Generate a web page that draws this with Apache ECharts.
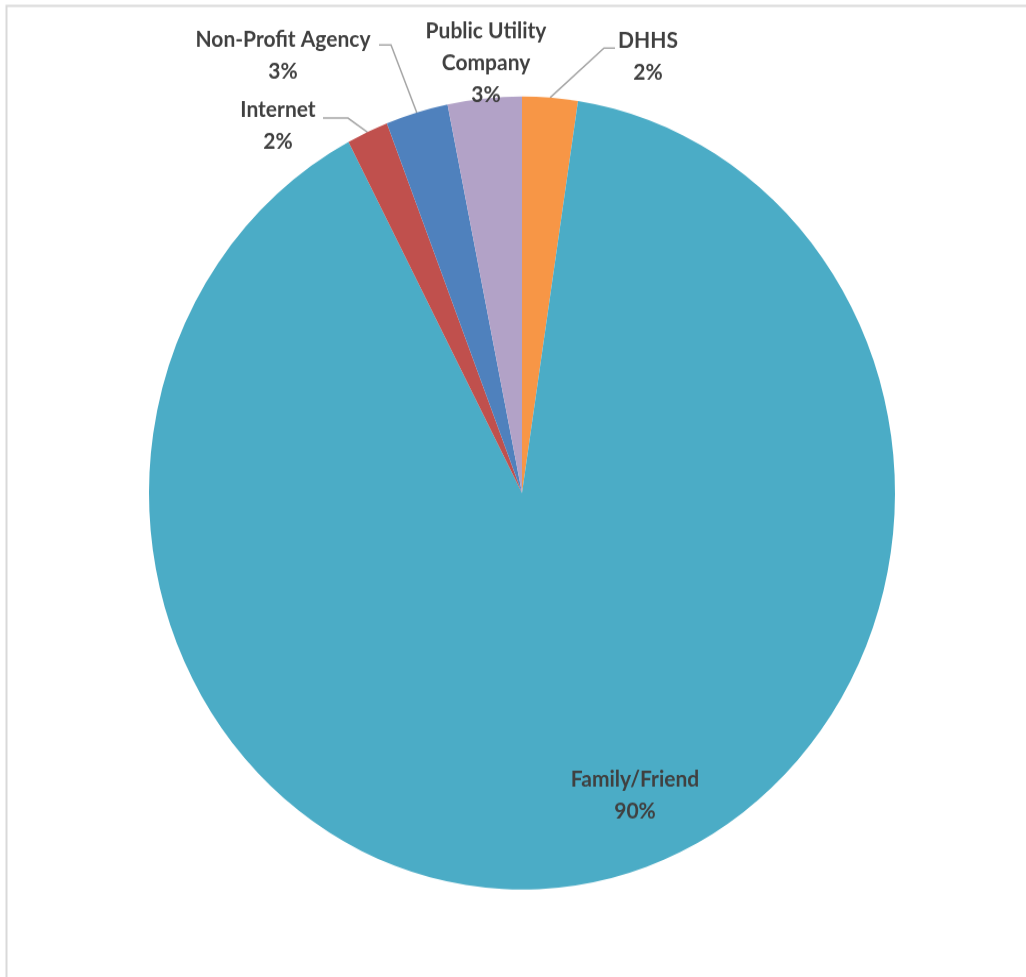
<!DOCTYPE html>
<html>
<head>
<meta charset="utf-8">
<script src="https://cdn.jsdelivr.net/npm/echarts@6/dist/echarts.min.js"></script>
<style>
  html, body { margin: 0; padding: 0; background: #fff; overflow: hidden; }
  #wrap { width: 1026px; height: 977px; overflow: hidden; position: relative; }
  /* the pie is drawn slightly taller than wide, so the chart box is stretched vertically */
  #chart { width: 1026px; height: 919px; transform: scaleY(1.063); transform-origin: 0 0; }
</style>
</head>
<body>
<div id="wrap"><div id="chart"></div></div>
<script>
// Where respondents heard about the program (share of responses, %)
const categories = ['DHHS', 'Family/Friend', 'Internet', 'Non-Profit Agency', 'Public Utility Company'];
const shares = [2.4, 89.9, 1.8, 2.7, 3.2];
const colors = ['#f79646', '#4bacc6', '#c0504d', '#4f81bd', '#b2a2c7'];

const STRETCH = 1.063;

// label block centres and leader-line elbows, in page pixels
const labelPlaces = [
  { x: 648, y: 57, line: [[604, 48], [615, 48]] },
  { x: 635, y: 795 },
  { x: 278, y: 126, line: [[348, 118], [323, 118]] },
  { x: 283, y: 55, line: [[391, 45], [379, 45]] },
  { x: 486, y: 63 }
];

const chart = echarts.init(document.getElementById('chart'), null, { renderer: 'canvas' });

chart.setOption({
  backgroundColor: '#ffffff',
  animation: false,
  graphic: [{
    type: 'rect',
    shape: { x: 6.5, y: 5.8 / STRETCH, width: 1200, height: 1200 },
    style: { fill: 'none', stroke: '#d9d9d9', lineWidth: 2 },
    silent: true
  }],
  series: [{
    type: 'pie',
    center: [522, 493 / STRETCH],
    radius: 373,
    startAngle: 90,
    clockwise: true,
    avoidLabelOverlap: false,
    itemStyle: { borderWidth: 0 },
    label: {
      show: true,
      position: 'outside',
      fontFamily: 'Lato',
      fontWeight: 'bold',
      fontSize: 21,
      lineHeight: 30,
      color: '#404040',
      align: 'center',
      formatter: p => p.name.replace('Utility ', 'Utility\n') + '\n' + Math.round(p.percent) + '%'
    },
    labelLine: {
      show: true,
      length: 20,
      length2: 10,
      lineStyle: { color: '#a6a6a6', width: 1.5 }
    },
    labelLayout: function (params) {
      const place = labelPlaces[params.dataIndex];
      const out = { x: place.x, y: place.y / STRETCH, align: 'center', verticalAlign: 'middle' };
      if (place.line && params.labelLinePoints) {
        out.labelLinePoints = [
          params.labelLinePoints[0],
          [place.line[0][0], place.line[0][1] / STRETCH],
          [place.line[1][0], place.line[1][1] / STRETCH]
        ];
      }
      return out;
    },
    data: categories.map((name, i) => {
      const item = { name: name, value: shares[i], itemStyle: { color: colors[i] } };
      if (name === 'Family/Friend') {
        item.label = { position: 'inside' };
        item.labelLine = { show: false };
      }
      if (name === 'Public Utility Company') {
        item.labelLine = { show: false };
      }
      return item;
    })
  }]
});
</script>
</body>
</html>
